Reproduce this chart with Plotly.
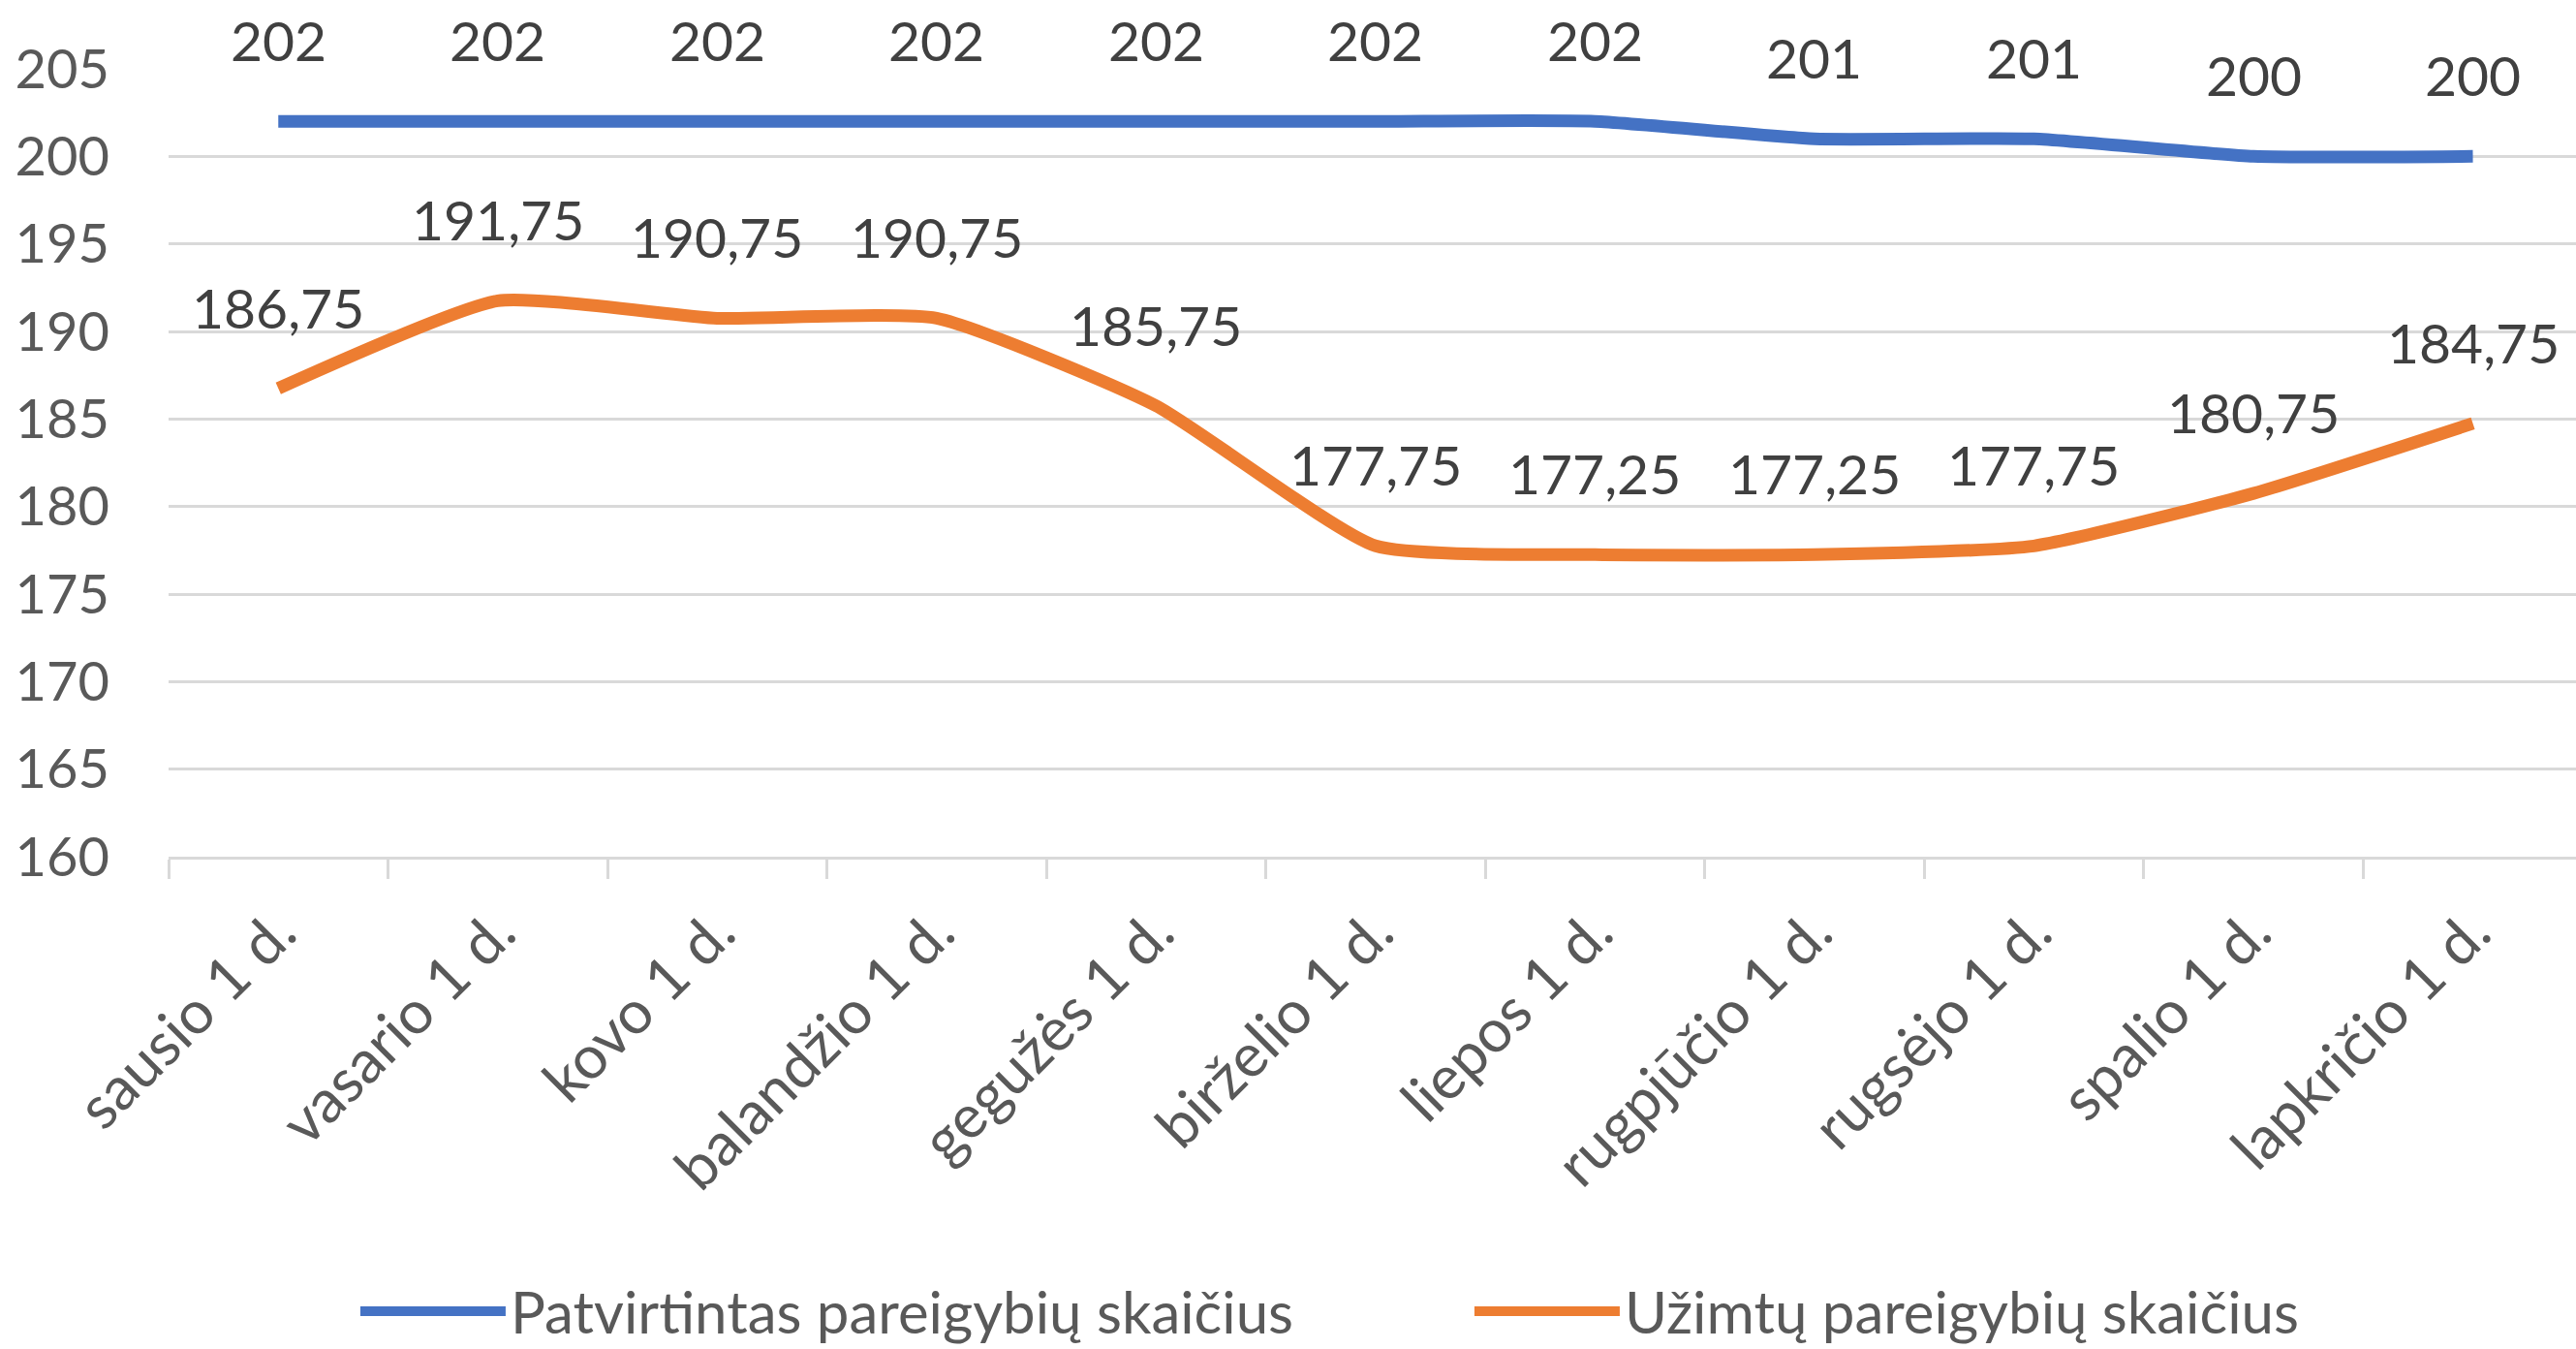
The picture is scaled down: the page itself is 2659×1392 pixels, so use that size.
import plotly.graph_objects as go

categories = ["sausio 1 d.", "vasario 1 d.", "kovo 1 d.", "balandžio 1 d.", "gegužės 1 d.",
              "birželio 1 d.", "liepos 1 d.", "rugpjūčio 1 d.", "rugsėjo 1 d.", "spalio 1 d.",
              "lapkričio 1 d."]
approved = [202, 202, 202, 202, 202, 202, 202, 201, 201, 200, 200]
occupied = [186.75, 191.75, 190.75, 190.75, 185.75, 177.75, 177.25, 177.25, 177.75, 180.75, 184.75]
series_names = ["Patvirtintas pareigybių skaičius", "Užimtų pareigybių skaičius"]
y_ticks = [160, 165, 170, 175, 180, 185, 190, 195, 200, 205]

BLUE = "#4472C4"
ORANGE = "#ED7D31"
GRID = "#D9D9D9"
TXT = "#595959"
LBL = "#404040"
FONT = "Lato"


def fmt(v):
    return f"{v:g}".replace(".", ",")


fig = go.Figure()
for name, vals, col in [(series_names[0], approved, BLUE), (series_names[1], occupied, ORANGE)]:
    fig.add_trace(go.Scatter(
        x=categories, y=vals, name=name, mode="lines",
        line=dict(color=col, width=13, shape="spline", smoothing=0.5),
    ))
    for c, v in zip(categories, vals):
        fig.add_annotation(x=c, y=v, text=fmt(v), showarrow=False, yshift=84,
                           font=dict(family=FONT, size=57, color=LBL))

fig.update_layout(
    width=2659, height=1392,
    margin=dict(l=174, r=0, t=71, b=508, autoexpand=False),
    plot_bgcolor="white", paper_bgcolor="white",
    font=dict(family=FONT, size=56, color=TXT),
    showlegend=True,
    legend=dict(orientation="h", xref="container", x=0.138, xanchor="left",
                yref="container", y=0.028, yanchor="middle",
                font=dict(family=FONT, size=60, color=TXT),
                entrywidth=985, entrywidthmode="pixels", itemwidth=150),
)
fig.update_xaxes(
    type="category", categoryorder="array", categoryarray=categories,
    range=[-0.5, 10.47],
    showline=True, linecolor=GRID, linewidth=2.5,
    ticks="outside", tickson="boundaries", ticklen=20, tickcolor=GRID, tickwidth=2.5,
    tickangle=-45, tickfont=dict(family=FONT, size=62, color=TXT),
    showgrid=False, ticklabelstandoff=14,
)
fig.update_yaxes(
    range=[160, 205], tickvals=y_ticks, ticktext=[str(t) for t in y_ticks],
    showline=False, showgrid=True, gridcolor=GRID, gridwidth=2.5, zeroline=False,
    ticks="", tickfont=dict(family=FONT, size=56, color=TXT), ticklabelstandoff=60,
)

fig.write_html("out.html", config={"displayModeBar": False},
               post_script="document.body.style.margin='0';document.body.style.overflow='hidden';")
